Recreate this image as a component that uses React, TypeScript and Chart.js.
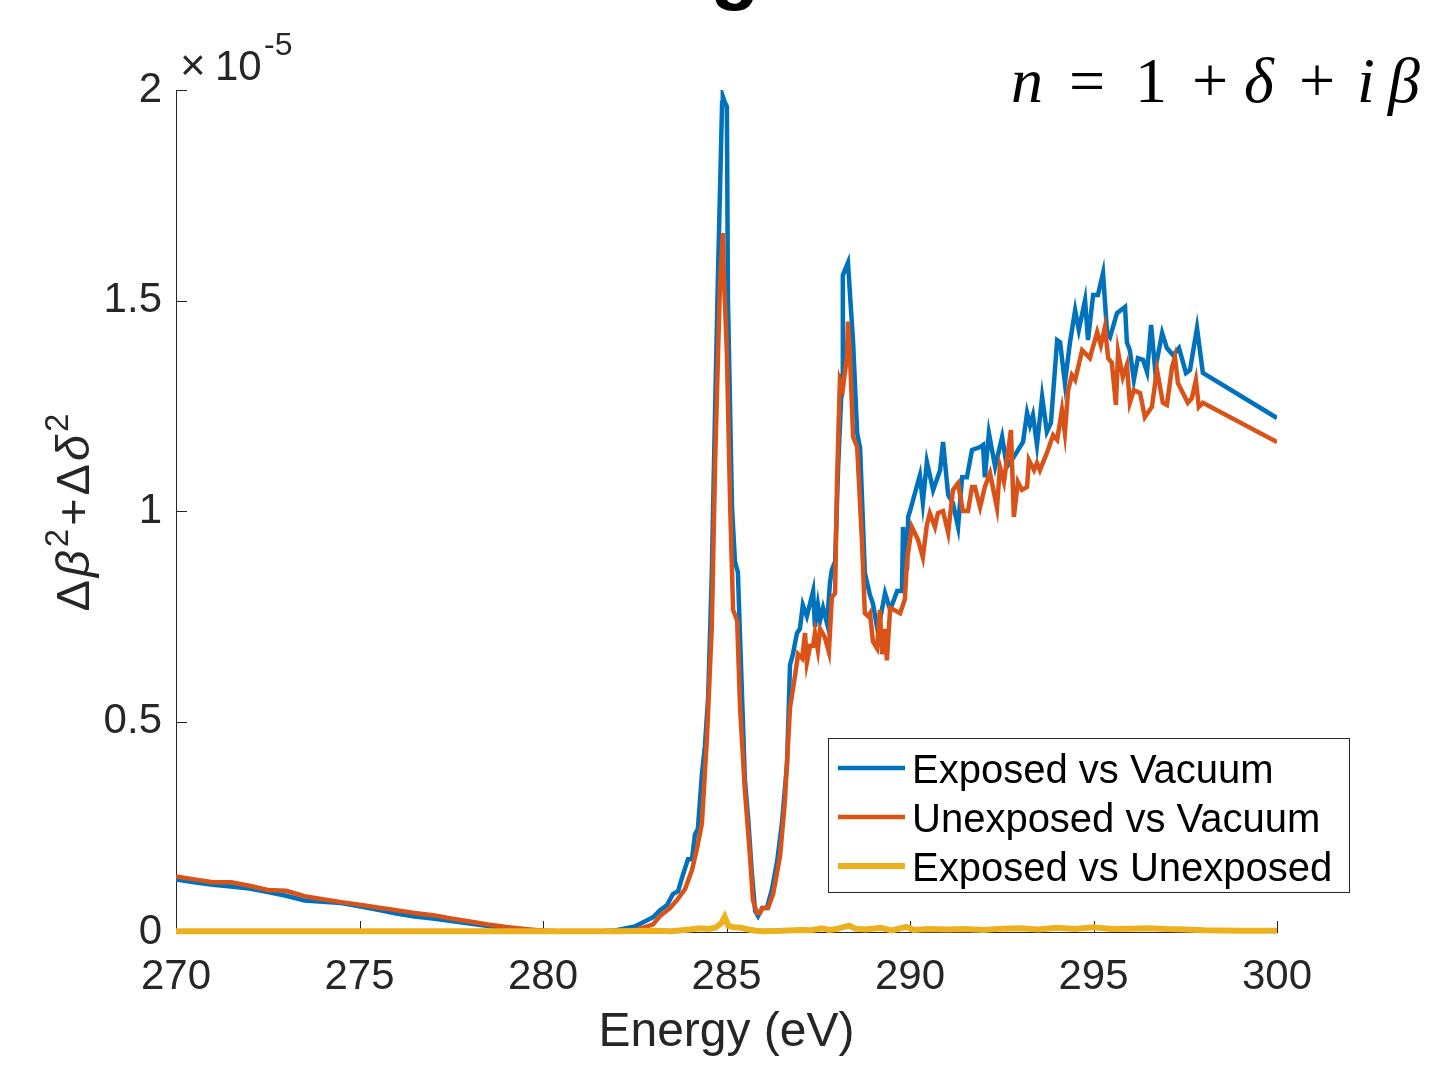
import React, { useEffect, useRef } from 'react';
import { Chart, registerables } from 'chart.js';

Chart.register(...registerables);

// ---- data (values in units of 1e-5) ----
const seriesNames = ['Exposed vs Vacuum', 'Unexposed vs Vacuum', 'Exposed vs Unexposed'];
const seriesColors = ['#0072BD', '#D95319', '#EDB120'];

const xTicks = [270, 275, 280, 285, 290, 295, 300];
const yTicks = [0, 0.5, 1, 1.5, 2];

const blueE = [
  270.0, 270.5, 271.0, 271.5, 272.0, 272.5, 273.0, 273.5, 274.0, 274.5, 275.0, 275.5, 276.0, 276.5, 277.0, 277.5,
  278.0, 278.5, 279.0, 279.5, 280.0, 280.5, 281.0, 281.5, 282.0, 282.5, 283.0, 283.19, 283.38, 283.54, 283.68,
  283.81, 283.95, 284.06, 284.14, 284.22, 284.33, 284.41, 284.5, 284.6, 284.69, 284.77, 284.88, 284.9, 284.96,
  285.01, 285.04, 285.15, 285.23, 285.31, 285.42, 285.5, 285.59, 285.69, 285.78, 285.86, 285.97, 286.1, 286.24,
  286.38, 286.51, 286.65, 286.73, 286.81, 286.92, 287.0, 287.08, 287.19, 287.36, 287.41, 287.49, 287.55, 287.63,
  287.74, 287.82, 287.87, 287.96, 288.04, 288.15, 288.17, 288.31, 288.45, 288.56, 288.64, 288.77, 288.91, 288.99,
  289.1, 289.18, 289.32, 289.46, 289.65, 289.78, 289.81, 289.92, 289.95, 290.0, 290.27, 290.35, 290.46, 290.63,
  290.82, 290.9, 291.04, 291.17, 291.31, 291.42, 291.55, 291.69, 291.91, 291.99, 292.04, 292.15, 292.32, 292.51,
  292.64, 292.81, 293.08, 293.19, 293.27, 293.35, 293.46, 293.6, 293.73, 293.84, 294.01, 294.09, 294.22, 294.36,
  294.5, 294.6, 294.77, 294.85, 294.99, 295.12, 295.26, 295.37, 295.45, 295.53, 295.64, 295.86, 295.91, 295.99,
  296.1, 296.21, 296.35, 296.46, 296.57, 296.68, 296.87, 297.0, 297.17, 297.33, 297.52, 297.63, 297.82, 297.98,
  300.0,
];
const blueV = [
  0.125, 0.118, 0.112, 0.108, 0.103, 0.095, 0.086, 0.075, 0.072, 0.069, 0.061, 0.053, 0.044, 0.037, 0.032, 0.026,
  0.02, 0.014, 0.009, 0.005, 0.003, 0.001, 0.0, 0.001, 0.004, 0.013, 0.035, 0.052, 0.064, 0.09, 0.097,
  0.135, 0.173, 0.173, 0.232, 0.245, 0.375, 0.44, 0.558, 0.855, 1.245, 1.57, 1.97, 1.985, 1.97,
  1.96, 1.5, 1.01, 0.88, 0.855, 0.57, 0.363, 0.27, 0.142, 0.05, 0.038, 0.057, 0.057, 0.102,
  0.168, 0.258, 0.4, 0.634, 0.66, 0.71, 0.72, 0.777, 0.75, 0.81, 0.725, 0.777, 0.74, 0.77,
  0.733, 0.83, 0.86, 0.88, 1.1, 1.32, 1.56, 1.59, 1.4, 1.185, 1.15, 0.853, 0.8, 0.78,
  0.725, 0.74, 0.805, 0.765, 0.81, 0.81, 0.962, 0.86, 0.986, 1.0, 1.085, 1.02, 1.117, 1.05,
  1.097, 1.164, 1.038, 1.019, 0.962, 1.08, 1.08, 1.145, 1.152, 1.157, 1.08, 1.185, 1.105, 1.176,
  1.105, 1.126, 1.164, 1.233, 1.204, 1.228, 1.157, 1.271, 1.188, 1.209, 1.406, 1.401, 1.304, 1.401,
  1.477, 1.43, 1.501, 1.406, 1.513, 1.513, 1.565, 1.423, 1.413, 1.437, 1.47, 1.485, 1.401, 1.382,
  1.311, 1.363, 1.359, 1.33, 1.442, 1.335, 1.423, 1.387, 1.37, 1.387, 1.328, 1.335, 1.435, 1.328,
  1.221,
];

const orangeE = [
  270.0, 270.5, 271.0, 271.5, 272.0, 272.5, 273.0, 273.5, 274.0, 274.5, 275.0, 275.5, 276.0, 276.5, 277.0, 277.5,
  278.0, 278.5, 279.0, 279.5, 280.0, 280.5, 281.0, 281.5, 282.0, 282.5, 283.0, 283.19, 283.46, 283.65, 283.87,
  284.06, 284.2, 284.33, 284.47, 284.6, 284.69, 284.77, 284.82, 284.9, 284.93, 285.01, 285.1, 285.18, 285.29,
  285.37, 285.5, 285.64, 285.72, 285.83, 285.91, 285.99, 286.13, 286.27, 286.46, 286.59, 286.73, 286.78, 286.87,
  286.95, 287.06, 287.14, 287.19, 287.28, 287.36, 287.41, 287.49, 287.55, 287.68, 287.79, 287.87, 287.96, 288.01,
  288.09, 288.17, 288.28, 288.31, 288.36, 288.45, 288.56, 288.69, 288.77, 288.86, 288.91, 288.99, 289.1, 289.18,
  289.24, 289.32, 289.37, 289.46, 289.73, 289.86, 289.92, 290.05, 290.22, 290.35, 290.46, 290.54, 290.68, 290.76,
  290.9, 291.04, 291.17, 291.31, 291.44, 291.58, 291.69, 291.77, 291.91, 292.04, 292.18, 292.37, 292.45, 292.56,
  292.75, 292.83, 292.94, 293.05, 293.19, 293.24, 293.38, 293.46, 293.54, 293.73, 293.9, 294.01, 294.14, 294.22,
  294.31, 294.41, 294.5, 294.69, 294.9, 295.1, 295.2, 295.31, 295.4, 295.5, 295.61, 295.67, 295.8, 295.91,
  295.99, 296.1, 296.27, 296.4, 296.59, 296.73, 296.89, 297.0, 297.14, 297.22, 297.3, 297.57, 297.68, 297.79,
  297.87, 297.98, 300.0,
];
const orangeV = [
  0.132, 0.125, 0.118, 0.118, 0.11, 0.1, 0.098, 0.085, 0.078, 0.071, 0.065, 0.058, 0.052, 0.045, 0.04, 0.032,
  0.025, 0.018, 0.012, 0.007, 0.003, 0.001, 0.0, 0.0, 0.001, 0.004, 0.018, 0.038, 0.057, 0.076, 0.102,
  0.147, 0.2, 0.258, 0.466, 0.727, 1.114, 1.375, 1.53, 1.66, 1.556, 1.375, 1.01, 0.765, 0.74,
  0.532, 0.337, 0.18, 0.076, 0.045, 0.045, 0.057, 0.057, 0.09, 0.18, 0.31, 0.532, 0.56, 0.61,
  0.66, 0.65, 0.71, 0.64, 0.68, 0.68, 0.71, 0.67, 0.72, 0.7, 0.665, 0.795, 0.805, 1.066,
  1.31, 1.29, 1.366, 1.45, 1.38, 1.176, 1.152, 0.93, 0.757, 0.75, 0.757, 0.69, 0.674, 0.765,
  0.66, 0.72, 0.645, 0.77, 0.757, 0.79, 0.884, 0.962, 0.931, 0.89, 0.967, 0.995, 0.962, 0.995,
  1.0, 0.948, 1.05, 1.066, 1.0, 1.0, 1.057, 1.057, 1.009, 1.057, 1.09, 1.007, 1.105, 1.069,
  1.192, 0.986, 1.069, 1.05, 1.057, 1.121, 1.097, 1.114, 1.097, 1.138, 1.18, 1.169, 1.24, 1.185,
  1.287, 1.323, 1.311, 1.382, 1.363, 1.425, 1.394, 1.437, 1.363, 1.352, 1.252, 1.378, 1.318, 1.347,
  1.257, 1.287, 1.28, 1.223, 1.247, 1.335, 1.257, 1.252, 1.342, 1.366, 1.304, 1.257, 1.268, 1.311,
  1.247, 1.257, 1.164,
];

const yellowE = [
  270, 272, 274, 276, 278, 280, 282, 283, 283.5, 284.0, 284.3, 284.5, 284.7, 284.85, 284.95, 285.05, 285.2,
  285.4, 285.6, 285.8, 286.0, 286.5, 287.0, 287.3, 287.6, 287.8, 288.0, 288.2, 288.35, 288.5, 288.8, 289.2,
  289.5, 289.9, 290.1, 290.5, 291.0, 291.5, 292.0, 292.5, 293.0, 293.5, 294.0, 294.5, 295.0, 295.5, 296.0,
  296.5, 297.0, 297.5, 298.0, 299.0, 300.0,
];
const yellowV = [
  0.002, 0.002, 0.002, 0.002, 0.002, 0.002, 0.002, 0.003, 0.002, 0.006, 0.009, 0.007, 0.01, 0.02, 0.036, 0.015, 0.011,
  0.01, 0.006, 0.003, 0.002, 0.003, 0.005, 0.004, 0.009, 0.005, 0.007, 0.012, 0.015, 0.008, 0.006, 0.01,
  0.004, 0.012, 0.005, 0.007, 0.006, 0.007, 0.005, 0.008, 0.009, 0.006, 0.01, 0.007, 0.011, 0.007, 0.008,
  0.009, 0.007, 0.006, 0.004, 0.003, 0.003,
];

const toPts = (xs: number[], ys: number[]) => xs.map((x, i) => ({ x, y: ys[i] }));

const FONT = '"Liberation Sans", Arial, Helvetica, sans-serif';
const SERIF = '"Liberation Serif", "DejaVu Serif", serif';
const AXIS_COLOR = '#262626';

const decorPlugin = {
  id: 'decor',
  beforeDatasetsDraw(chart: any) {
    const ctx = chart.ctx;
    const { left, bottom } = chart.chartArea;
    const xs = chart.scales.x;
    const ys = chart.scales.y;
    ctx.save();
    ctx.strokeStyle = AXIS_COLOR;
    ctx.lineWidth = 1;
    ctx.beginPath();
    xTicks.forEach((v) => {
      const px = Math.round(xs.getPixelForValue(v)) + 0.5;
      ctx.moveTo(px, bottom);
      ctx.lineTo(px, bottom - 11);
    });
    yTicks.forEach((v) => {
      const py = Math.round(ys.getPixelForValue(v)) + 0.5;
      ctx.moveTo(left, py);
      ctx.lineTo(left + 11, py);
    });
    ctx.stroke();
    ctx.restore();
  },
  afterDraw(chart: any) {
    const ctx = chart.ctx;
    const { top, bottom } = chart.chartArea;
    ctx.save();

    // clipped title fragment at top
    ctx.fillStyle = '#000';
    ctx.font = `bold 80px ${FONT}`;
    ctx.textAlign = 'center';
    ctx.textBaseline = 'alphabetic';
    ctx.fillText('g', 735, -6);

    // exponent label
    ctx.fillStyle = AXIS_COLOR;
    ctx.textAlign = 'left';
    ctx.font = `44px ${FONT}`;
    ctx.fillText('\u00d7', 180, 80);
    ctx.font = `42px ${FONT}`;
    ctx.fillText('10', 215, 80);
    ctx.font = `32px ${FONT}`;
    ctx.fillText('-5', 264, 55);

    // y axis title (rotated, mixed styles)
    const parts = [
      { t: '\u0394', f: `47px ${FONT}`, dy: 0 },
      { t: '\u03b2', f: `italic 47px ${FONT}`, dy: 0 },
      { t: '2', f: `33px ${FONT}`, dy: -21 },
      { t: '+', f: `47px ${FONT}`, dy: 0 },
      { t: '\u0394', f: `47px ${FONT}`, dy: 0 },
      { t: '\u03b4', f: `italic 47px ${FONT}`, dy: 0 },
      { t: '2', f: `33px ${FONT}`, dy: -21 },
    ];
    let total = 0;
    const widths = parts.map((p) => {
      ctx.font = p.f;
      const w = ctx.measureText(p.t).width + 3;
      total += w;
      return w;
    });
    ctx.save();
    ctx.translate(89, (top + bottom) / 2);
    ctx.rotate(-Math.PI / 2);
    let cx = -total / 2;
    parts.forEach((p, i) => {
      ctx.font = p.f;
      ctx.fillText(p.t, cx, p.dy);
      cx += widths[i];
    });
    ctx.restore();

    // formula n = 1 + δ + i β
    ctx.fillStyle = '#000';
    const ftoks = [
      { t: 'n', x: 1011, it: true },
      { t: '=', x: 1069, it: false },
      { t: '1', x: 1135, it: false },
      { t: '+', x: 1192, it: false },
      { t: '\u03b4', x: 1244, it: true },
      { t: '+', x: 1299, it: false },
      { t: 'i', x: 1357, it: true },
      { t: '\u03b2', x: 1388, it: true },
    ];
    ftoks.forEach((tk) => {
      ctx.font = `${tk.it ? 'italic ' : ''}64px ${SERIF}`;
      ctx.fillText(tk.t, tk.x, 102);
    });

    // legend
    const bx = 828.5, by = 738.5, bw = 521, bh = 154;
    ctx.fillStyle = '#fff';
    ctx.fillRect(bx, by, bw, bh);
    ctx.strokeStyle = AXIS_COLOR;
    ctx.lineWidth = 1;
    ctx.strokeRect(bx, by, bw, bh);
    const rowsY = [783, 832, 881];
    seriesNames.forEach((name, i) => {
      const ly = rowsY[i] - 15;
      ctx.strokeStyle = seriesColors[i];
      ctx.lineWidth = i === 2 ? 6 : 4.5;
      ctx.beginPath();
      ctx.moveTo(838, ly);
      ctx.lineTo(905, ly);
      ctx.stroke();
      ctx.fillStyle = '#000';
      ctx.font = `40px ${FONT}`;
      ctx.textAlign = 'left';
      ctx.fillText(name, 912, rowsY[i]);
    });

    ctx.restore();
  },
};

export default function App() {
  const ref = useRef<HTMLCanvasElement>(null);
  useEffect(() => {
    document.body.style.margin = '0';
    const canvas = ref.current!;
    const chart = new Chart(canvas, {
      type: 'line',
      data: {
        datasets: [
          {
            label: seriesNames[0],
            data: toPts(blueE, blueV),
            borderColor: seriesColors[0],
            borderWidth: 4.5,
            pointRadius: 0,
            tension: 0,
            order: 3,
          },
          {
            label: seriesNames[1],
            data: toPts(orangeE, orangeV),
            borderColor: seriesColors[1],
            borderWidth: 4.5,
            pointRadius: 0,
            tension: 0,
            order: 2,
          },
          {
            label: seriesNames[2],
            data: toPts(yellowE, yellowV),
            borderColor: seriesColors[2],
            borderWidth: 6,
            pointRadius: 0,
            tension: 0,
            order: 1,
            clip: false,
          },
        ],
      },
      options: {
        animation: false,
        responsive: false,
        maintainAspectRatio: false,
        devicePixelRatio: 1,
        layout: { padding: { top: 90, right: 152, left: 0, bottom: 0 } },
        plugins: { legend: { display: false }, tooltip: { enabled: false } },
        scales: {
          x: {
            type: 'linear',
            min: 270,
            max: 300,
            afterFit: (s: any) => {
              s.height = 133;
            },
            afterBuildTicks: (s: any) => {
              s.ticks = xTicks.map((v) => ({ value: v }));
            },
            grid: { display: false, drawTicks: false },
            border: { display: true, color: AXIS_COLOR, width: 1 },
            ticks: {
              autoSkip: false,
              maxRotation: 0,
              padding: 20,
              color: AXIS_COLOR,
              font: { family: FONT, size: 42 },
              callback: (v: any) => String(v),
            },
            title: {
              display: true,
              text: 'Energy (eV)',
              color: AXIS_COLOR,
              font: { family: FONT, size: 48 },
              padding: { top: 0, bottom: 3 },
            },
          },
          y: {
            type: 'linear',
            min: 0,
            max: 2,
            afterFit: (s: any) => {
              s.width = 176;
            },
            afterBuildTicks: (s: any) => {
              s.ticks = yTicks.map((v) => ({ value: v }));
            },
            grid: { display: false, drawTicks: false },
            border: { display: true, color: AXIS_COLOR, width: 1 },
            ticks: {
              padding: 14,
              color: AXIS_COLOR,
              font: { family: FONT, size: 42 },
              callback: (v: any) => String(v),
            },
          },
        },
      },
      plugins: [decorPlugin],
    } as any);
    return () => chart.destroy();
  }, []);
  return (
    <div style={{ position: 'absolute', left: 0, top: 0, width: 1429, height: 1065, background: '#fff' }}>
      <canvas ref={ref} width={1429} height={1065} style={{ width: 1429, height: 1065, display: 'block' }} />
    </div>
  );
}
